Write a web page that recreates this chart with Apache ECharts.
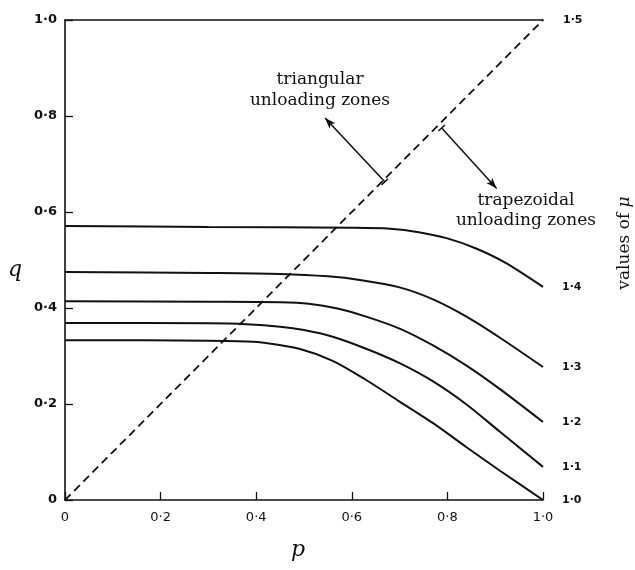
<!DOCTYPE html>
<html>
<head>
<meta charset="utf-8">
<script src="https://cdn.jsdelivr.net/npm/echarts@6/dist/echarts.min.js"></script>
<style>
  html, body { margin: 0; padding: 0; background: #fff; }
  #chart { width: 635px; height: 570px; }
</style>
</head>
<body>
<div id="chart"></div>
<script>
// Axis ticks
const pTicks = [0, 0.2, 0.4, 0.6, 0.8, 1.0];
const qTicks = [0, 0.2, 0.4, 0.6, 0.8, 1.0];

// Boundary between triangular and trapezoidal unloading zones (mu = 1.5)
const boundaryP = [0, 1.0];
const boundaryQ = [0, 1.0];
const boundaryLabel = '1·5';

// Curves of q against p for each value of mu
const muLabels = ['1·0', '1·1', '1·2', '1·3', '1·4'];

const pMu10 = [0, 0.30, 0.38, 0.42, 0.49, 0.56, 0.63, 0.70, 0.77, 0.84, 0.91, 1.0];
const qMu10 = [0.333, 0.332, 0.330, 0.327, 0.315, 0.290, 0.250, 0.205, 0.160, 0.110, 0.061, 0.0];

const pMu11 = [0, 0.30, 0.38, 0.45, 0.50, 0.56, 0.63, 0.70, 0.77, 0.84, 0.91, 1.0];
const qMu11 = [0.369, 0.368, 0.366, 0.361, 0.354, 0.340, 0.315, 0.285, 0.247, 0.199, 0.142, 0.069];

const pMu12 = [0, 0.30, 0.45, 0.51, 0.57, 0.63, 0.70, 0.77, 0.84, 0.91, 1.0];
const qMu12 = [0.414, 0.413, 0.412, 0.409, 0.399, 0.382, 0.357, 0.322, 0.280, 0.231, 0.1625];

const pMu13 = [0, 0.30, 0.45, 0.55, 0.62, 0.70, 0.77, 0.84, 0.91, 1.0];
const qMu13 = [0.475, 0.473, 0.471, 0.466, 0.458, 0.443, 0.418, 0.382, 0.338, 0.277];

const pMu14 = [0, 0.30, 0.60, 0.68, 0.74, 0.80, 0.86, 0.92, 1.0];
const qMu14 = [0.571, 0.569, 0.567, 0.565, 0.558, 0.545, 0.524, 0.495, 0.444];

// Annotation arrows: [tail p, tail q, head p, head q]
const triArrow = [0.669, 0.663, 0.544, 0.796];
const trapArrow = [0.788, 0.775, 0.903, 0.649];

const INK = '#111';

function fmtTick(v) {
  return v === 0 ? '0' : v.toFixed(1).replace('.', '·');
}

function pairs(ps, qs) {
  return ps.map((p, i) => [p, qs[i]]);
}

function curve(ps, qs, label) {
  return {
    type: 'line',
    data: pairs(ps, qs),
    showSymbol: false,
    symbol: 'none',
    smooth: 0.3,
    silent: true,
    lineStyle: { color: INK, width: 2 },
    endLabel: {
      show: true,
      formatter: label,
      color: INK,
      fontFamily: 'DejaVu Sans',
      fontWeight: 'bold',
      fontSize: 11,
      distance: 19
    },
    z: 3
  };
}

// Bar drawn across the tail of an annotation arrow
const tailBar = 'path://M0,0 L10,0 L10,1 L0,1 Z';

function arrow(a) {
  return [
    { coord: [a[0], a[1]], symbol: tailBar, symbolSize: [9, 1.5] },
    { coord: [a[2], a[3]], symbol: 'arrow', symbolSize: [6, 11] }
  ];
}

const chart = echarts.init(document.getElementById('chart'), null, { renderer: 'canvas' });

const axisLineStyle = { color: INK, width: 1.6 };

const option = {
  animation: false,
  backgroundColor: '#fff',
  grid: { left: 65, right: 92, top: 20, bottom: 70, containLabel: false },
  xAxis: [
    {
      type: 'value',
      min: pTicks[0],
      max: pTicks[pTicks.length - 1],
      interval: 0.2,
      position: 'bottom',
      axisLine: { show: true, onZero: false, lineStyle: axisLineStyle },
      axisTick: { show: true, inside: true, length: 8, lineStyle: { color: INK, width: 1.3 } },
      axisLabel: {
        color: INK,
        fontFamily: 'DejaVu Sans',
        fontSize: 13,
        margin: 11,
        formatter: fmtTick
      },
      splitLine: { show: false }
    },
    {
      type: 'value',
      min: 0,
      max: 1,
      position: 'top',
      axisLine: { show: true, onZero: false, lineStyle: axisLineStyle },
      axisTick: { show: false },
      axisLabel: { show: false },
      splitLine: { show: false }
    }
  ],
  yAxis: {
    type: 'value',
    min: qTicks[0],
    max: qTicks[qTicks.length - 1],
    interval: 0.2,
    axisLine: { show: true, onZero: false, lineStyle: axisLineStyle },
    axisTick: { show: true, inside: true, length: 8, lineStyle: { color: INK, width: 1.3 } },
    axisLabel: {
      color: INK,
      fontFamily: 'DejaVu Sans',
      fontWeight: 'bold',
      fontSize: 13,
      margin: 8,
      formatter: fmtTick
    },
    splitLine: { show: false }
  },
  series: [
    {
      type: 'line',
      data: pairs(boundaryP, boundaryQ),
      showSymbol: false,
      symbol: 'none',
      silent: true,
      lineStyle: { color: INK, width: 1.8, type: [8, 5] },
      endLabel: {
        show: true,
        formatter: boundaryLabel,
        color: INK,
        fontFamily: 'DejaVu Sans',
        fontWeight: 'bold',
        fontSize: 11,
        distance: 20
      },
      markLine: {
        silent: true,
        animation: false,
        label: { show: false },
        lineStyle: { color: INK, width: 1.5, type: 'solid' },
        emphasis: { disabled: true },
        data: [arrow(triArrow), arrow(trapArrow)]
      },
      z: 2
    },
    curve(pMu10, qMu10, muLabels[0]),
    curve(pMu11, qMu11, muLabels[1]),
    curve(pMu12, qMu12, muLabels[2]),
    curve(pMu13, qMu13, muLabels[3]),
    curve(pMu14, qMu14, muLabels[4])
  ],
  graphic: [
    {
      type: 'text',
      x: 320, y: 90,
      silent: true,
      style: {
        text: 'triangular\nunloading zones',
        align: 'center',
        verticalAlign: 'middle',
        font: '17px "DejaVu Serif"',
        lineHeight: 21,
        fill: INK
      }
    },
    {
      type: 'text',
      x: 526, y: 211,
      silent: true,
      style: {
        text: 'trapezoidal\nunloading zones',
        align: 'center',
        verticalAlign: 'middle',
        font: '17px "DejaVu Serif"',
        lineHeight: 20,
        fill: INK
      }
    },
    {
      type: 'text',
      x: 625, y: 243,
      rotation: Math.PI / 2,
      silent: true,
      style: {
        text: '{a|values of }{b|μ}',
        align: 'center',
        verticalAlign: 'middle',
        fill: INK,
        rich: {
          a: { fontFamily: 'DejaVu Serif', fontSize: 17, fill: INK },
          b: { fontFamily: 'DejaVu Serif', fontStyle: 'italic', fontSize: 17, fill: INK }
        }
      }
    },
    {
      type: 'text',
      x: 15, y: 270,
      silent: true,
      style: {
        text: 'q',
        align: 'center',
        verticalAlign: 'middle',
        font: 'italic 22px "DejaVu Serif"',
        fill: INK
      }
    },
    {
      type: 'text',
      x: 298, y: 550,
      silent: true,
      style: {
        text: 'p',
        align: 'center',
        verticalAlign: 'middle',
        font: 'italic 22px "DejaVu Serif"',
        fill: INK
      }
    }
  ]
};

chart.setOption(option);
</script>
</body>
</html>
